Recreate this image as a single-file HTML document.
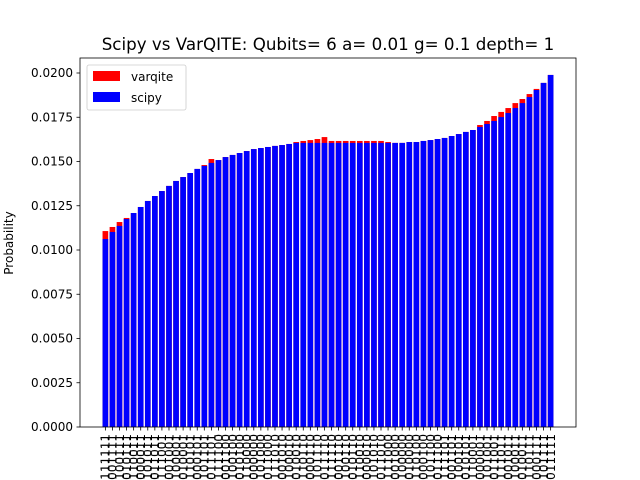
<!DOCTYPE html>
<html><head><meta charset="utf-8"><style>
body{margin:0;background:#fff;}
svg{display:block;font-family:"DejaVu Sans","Liberation Sans",sans-serif;}
</style></head><body>
<svg id="chart" width="640" height="480" viewBox="0 0 640 480" xmlns="http://www.w3.org/2000/svg">
<rect x="0" y="0" width="640" height="480" fill="#fff"/>
<text x="328" y="50" font-size="16.7" text-anchor="middle">Scipy vs VarQITE: Qubits= 6 a= 0.01 g= 0.1 depth= 1</text>
<text x="13" y="243" font-size="12" text-anchor="middle" transform="rotate(-90 13 243)">Probability</text>
<g id="bars"></g>
<g id="yticks"></g>
<g id="xticks"></g>
<rect x="80" y="58" width="496" height="369" fill="none" stroke="#000" stroke-width="0.8"/>
<g>
<rect x="87" y="65" width="99" height="45" rx="2" fill="#fff" fill-opacity="0.8" stroke="#ccc" stroke-width="0.8"/>
<rect x="93" y="71" width="27" height="10" fill="red"/>
<text x="131" y="81" font-size="12">varqite</text>
<rect x="93" y="92" width="27" height="10" fill="blue"/>
<text x="131" y="102" font-size="12">scipy</text>
</g>
</svg>
<script>
const scipy=[0.01062,0.01102,0.01136,0.01175,0.01209,0.01243,0.01277,0.01305,0.01333,0.01362,0.0139,0.01412,0.01435,0.01458,0.01475,0.01492,
0.01508,0.01525,0.01537,0.01548,0.01559,0.0157,0.01576,0.01582,0.01588,0.01593,0.01599,0.01605,0.01605,0.01605,0.01605,0.01605,
0.01605,0.01605,0.01605,0.01605,0.01605,0.01605,0.01605,0.01605,0.01605,0.01605,0.01605,0.0161,0.0161,0.01616,0.01621,0.01627,
0.01633,0.01644,0.01655,0.01667,0.01678,0.01695,0.01712,0.01729,0.01751,0.01774,0.01802,0.0183,0.01864,0.01904,0.01944,0.01989];
const varqite=[0.01107,0.0113,0.01158,0.01181,0.01209,0.01243,0.01277,0.01305,0.01333,0.01362,0.0139,0.01412,0.01435,0.01458,0.0148,0.01514,
0.01508,0.01525,0.01537,0.01548,0.01559,0.0157,0.01576,0.01582,0.01588,0.01593,0.01599,0.0161,0.01616,0.01621,0.01627,0.01638,
0.01616,0.01616,0.01616,0.01616,0.01616,0.01616,0.01616,0.01616,0.0161,0.01605,0.01605,0.0161,0.0161,0.01616,0.01621,0.01627,
0.01633,0.01644,0.01655,0.01667,0.01678,0.01706,0.01729,0.01757,0.0178,0.01802,0.0183,0.01853,0.01881,0.0191,0.01944,0.01989];
const yTicks=[0,0.0025,0.005,0.0075,0.01,0.0125,0.015,0.0175,0.02];
const yTickLabels=["0.0000","0.0025","0.0050","0.0075","0.0100","0.0125","0.0150","0.0175","0.0200"];
const categories=[];
for(let i=0;i<64;i++){let s="";const p=[1,2,4,8,16,32];for(let j=0;j<6;j++){const sh=p[j]/2;s+=(Math.floor((i+sh)/p[j])%2===0)?"1":"0";}categories.push(s);}
const NS="http://www.w3.org/2000/svg";
const X0=80,W=496,Y0=427,Y1=58;
const xmin=-0.4-3.19,xmax=scipy.length-1+0.4+3.19;
function xs(i){return X0+(i-xmin)/(xmax-xmin)*W;}
function ys(v){return 427-v/0.02*354;}
const bw=0.8*W/(xmax-xmin);
const gb=document.getElementById('bars');
function bar(v,i,c,nm){const r=document.createElementNS(NS,'rect');
r.setAttribute('x',xs(i)-bw/2);r.setAttribute('y',ys(v));r.setAttribute('width',bw);r.setAttribute('height',Y0-ys(v));r.setAttribute('fill',c);


gb.appendChild(r);}
varqite.forEach((v,i)=>bar(v,i,'red','varqite-bar-'+i));
scipy.forEach((v,i)=>bar(v,i,'blue','scipy-bar-'+i));
const gy=document.getElementById('yticks');
yTicks.forEach((t,k)=>{const y=ys(t);
const l=document.createElementNS(NS,'line');l.setAttribute('x1',X0-3.5);l.setAttribute('x2',X0);l.setAttribute('y1',y);l.setAttribute('y2',y);l.setAttribute('stroke','#000');l.setAttribute('stroke-width','0.8');


gy.appendChild(l);
const tx=document.createElementNS(NS,'text');tx.setAttribute('x',X0-7);tx.setAttribute('y',y+4);tx.setAttribute('font-size','12');tx.setAttribute('text-anchor','end');tx.textContent=yTickLabels[k];


gy.appendChild(tx);});
const gx=document.getElementById('xticks');
categories.forEach((c,i)=>{const x=xs(i);
const l=document.createElementNS(NS,'line');l.setAttribute('x1',x);l.setAttribute('x2',x);l.setAttribute('y1',Y0);l.setAttribute('y2',Y0+3.5);l.setAttribute('stroke','#000');l.setAttribute('stroke-width','0.8');


gx.appendChild(l);
const tx=document.createElementNS(NS,'text');tx.setAttribute('font-size','12');tx.setAttribute('text-anchor','end');
tx.setAttribute('transform','translate('+(x+4.3)+','+(Y0+7)+') rotate(-90)');tx.textContent=c;


gx.appendChild(tx);});
</script>
</body></html>
